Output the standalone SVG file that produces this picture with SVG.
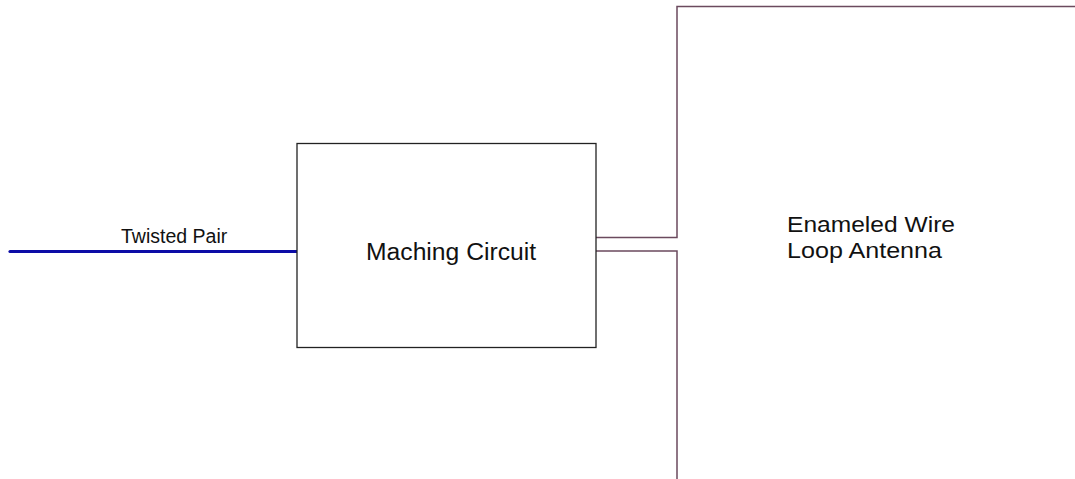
<svg xmlns="http://www.w3.org/2000/svg" width="1075" height="479" viewBox="0 0 1075 479">
<style>
.lbl{font-family:"Liberation Sans",Arial,sans-serif;fill:#111;}
.wire{fill:none;stroke:#6b4a5e;stroke-width:1.5;}
</style>
<rect width="1075" height="479" fill="#ffffff"/>
<g id="connectors">
<line x1="10" y1="251.5" x2="299" y2="251.5" stroke="#0c0ca6" stroke-width="3.2" stroke-linecap="round"/>
<path class="wire" d="M596,237.5 H677 V6.5 H1075"/>
<path class="wire" d="M596,251 H677 V479"/>
</g>
<g id="twisted-pair-label">
<text class="lbl" x="121" y="242.5" font-size="19.5" fill="#222">Twisted Pair</text>
</g>
<g id="matching-circuit">
<rect x="297" y="143.5" width="299" height="204" fill="#ffffff" stroke="#222" stroke-width="1.3"/>
<text class="lbl" x="366" y="260" font-size="24.7">Maching Circuit</text>
</g>
<g id="loop-antenna">
<text class="lbl" font-size="22.5" textLength="168" lengthAdjust="spacingAndGlyphs" x="787" y="232">Enameled Wire</text>
<text class="lbl" font-size="22.5" textLength="155" lengthAdjust="spacingAndGlyphs" x="787" y="258">Loop Antenna</text>
</g>
</svg>
